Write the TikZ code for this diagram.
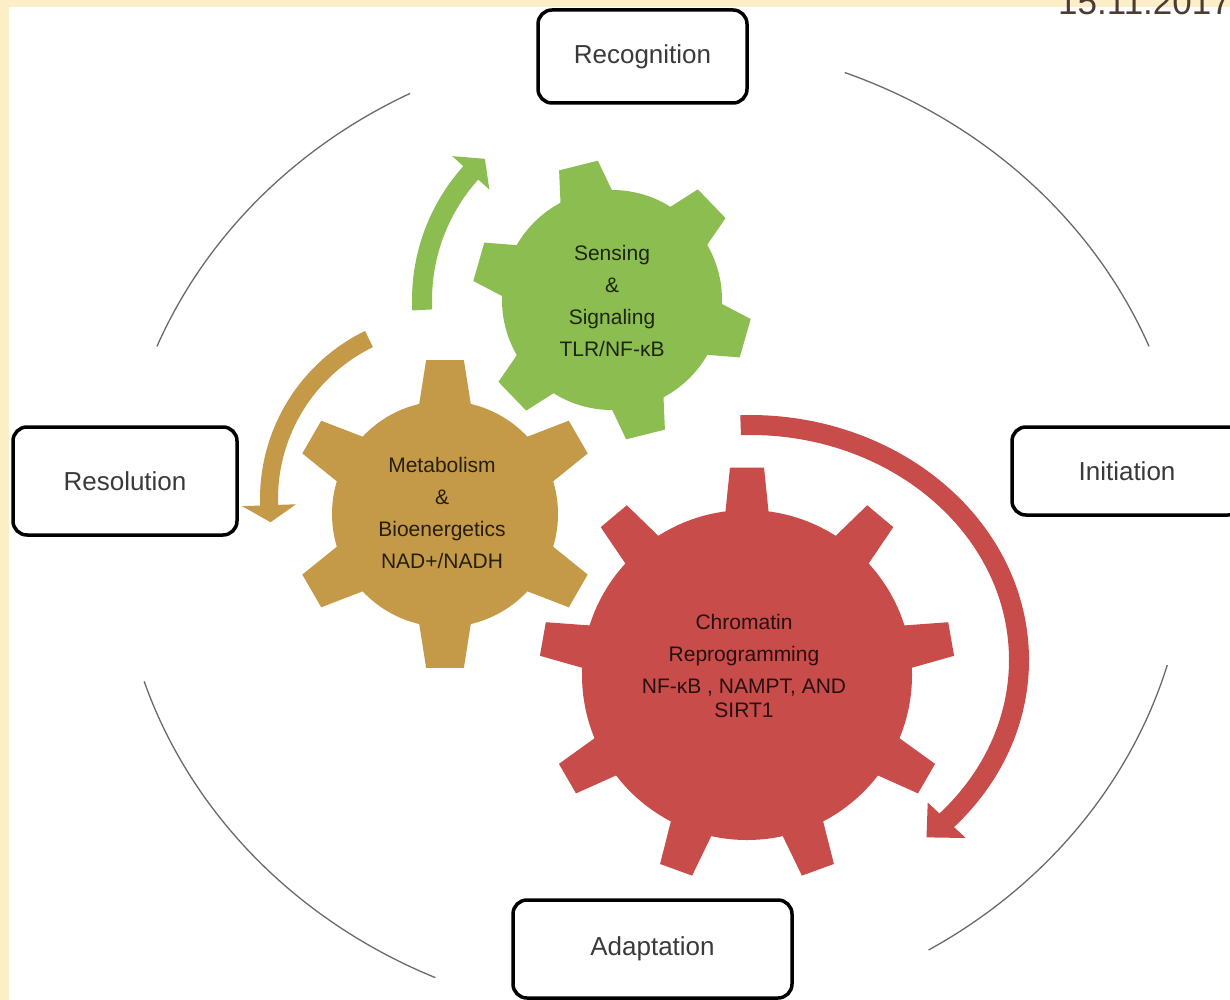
\documentclass[tikz,border=0pt]{standalone}
\usepackage{fontspec}
\setmainfont{Liberation Sans}
\usetikzlibrary{calc}
\definecolor{stripY}{HTML}{FCEFC8}
\definecolor{gGreen}{HTML}{8CBD50}
\definecolor{gBrown}{HTML}{C49A48}
\definecolor{gRed}{HTML}{C84C49}
\definecolor{ringC}{HTML}{6A6A6A}
\definecolor{boxText}{HTML}{3A3A3A}
\definecolor{dateC}{HTML}{4D3C32}
\newcommand{\mygear}[7]{%
  \begin{scope}[shift={#1}]
    \fill[#7] (0,0) circle[radius=#3];
    \foreach \a in {#2}
      \fill[#7] (\a-#5:#3-6) -- (\a-#6:#4) -- (\a+#6:#4) -- (\a+#5:#3-6) -- cycle;
  \end{scope}}
\tikzset{
  stagebox/.style={draw=black, line width=3.5pt, rounded corners=14pt, fill=white,
    inner sep=0pt, text=boxText, font=\fontsize{26}{30}\selectfont},
  geartext/.style={align=center, inner sep=0pt, font=\fontsize{21}{32}\selectfont},
  ring/.style={draw=ringC, line width=1.3pt},
  halo/.style={white, draw=white, line width=4pt}
}
\begin{document}
\begin{tikzpicture}[x=1pt,y=-1pt]
\useasboundingbox (0,0) rectangle (1230,1000);
\clip (0,0) rectangle (1230,1000);
\fill[white] (0,0) rectangle (1230,1000);
\fill[stripY] (0,0) rectangle (1230,7);
\fill[stripY] (0,0) rectangle (9,1000);

% date
\node[anchor=base east, inner sep=0pt, text=dateC, font=\fontsize{35}{40}\selectfont] (date) at (1231,15) {15.11.2017};

% outer cycle arcs
\coordinate (ctr) at (653,530);
\draw[ring] (ctr) ++(202:535 and 490) arc[start angle=202, end angle=243, x radius=535, y radius=490];
\draw[ring] (ctr) ++(291:535 and 490) arc[start angle=291, end angle=338, x radius=535, y radius=490];
\draw[ring] (ctr) ++(16:535 and 490) arc[start angle=16, end angle=59, x radius=535, y radius=490];
\draw[ring] (ctr) ++(114:535 and 490) arc[start angle=114, end angle=162, x radius=535, y radius=490];

% stage boxes
\node[stagebox, minimum width=209pt, minimum height=93pt] (rec) at (642.5,56.5) {Recognition};
\node[stagebox, minimum width=230pt, minimum height=88pt] (ini) at (1127,471) {Initiation};
\node[stagebox, minimum width=279pt, minimum height=98pt] (ada) at (652.5,949) {Adaptation};
\node[stagebox, minimum width=224pt, minimum height=108pt] (res) at (125,481) {Resolution};

% gears
\mygear{(612,300)}{16,76,...,316}{110}{140}{15.5}{8.2}{halo}
\mygear{(612,300)}{16,76,...,316}{110}{140}{15.5}{8.2}{gGreen}
\mygear{(445,514)}{30,90,...,330}{113}{155}{14.5}{7}{halo}
\mygear{(445,514)}{30,90,...,330}{113}{155}{14.5}{7}{gBrown}
\mygear{(747,675)}{270,310,...,590}{165}{208}{8}{4.7}{halo}
\mygear{(747,675)}{270,310,...,590}{165}{208}{8}{4.7}{gRed}

% curved arrows
\begin{scope}[shift={(612,300)}]
  \fill[gGreen] (177:180) arc[start angle=177, end angle=222, radius=180]
    -- (222:165) -- (228:190) -- (222:215) -- (222:200)
    arc[start angle=222, end angle=177, radius=200] -- cycle;
\end{scope}
\begin{scope}[shift={(447,499)}]
  \fill[gBrown] (244:169) arc[start angle=244, end angle=178, radius=169]
    -- (178:151) -- (172.5:178) -- (178:205) -- (178:187)
    arc[start angle=178, end angle=244, radius=187] -- cycle;
\end{scope}
\begin{scope}[shift={(750,660)}]
  \fill[gRed] (268:259 and 225) arc[start angle=268, end angle=403, x radius=259, y radius=225]
    -- (403:243 and 209) -- (409:269 and 235) -- (403:295 and 261) -- (403:279 and 245)
    arc[start angle=403, end angle=268, x radius=279, y radius=245] -- cycle;
\end{scope}

% gear texts
\node[geartext, text=black!80!gGreen] (gtext) at (612,301) {Sensing\\\&\\Signaling\\TLR/NF-κB};
\node[geartext, text=black!80!gBrown] (btext) at (442,513) {Metabolism\\\&\\Bioenergetics\\NAD+/NADH};
\node[geartext, text=black!80!gRed] (rtext) at (744,666) {Chromatin\\Reprogramming\\NF-κB , NAMPT, AND\\[-8pt]SIRT1};
\end{tikzpicture}
\end{document}
